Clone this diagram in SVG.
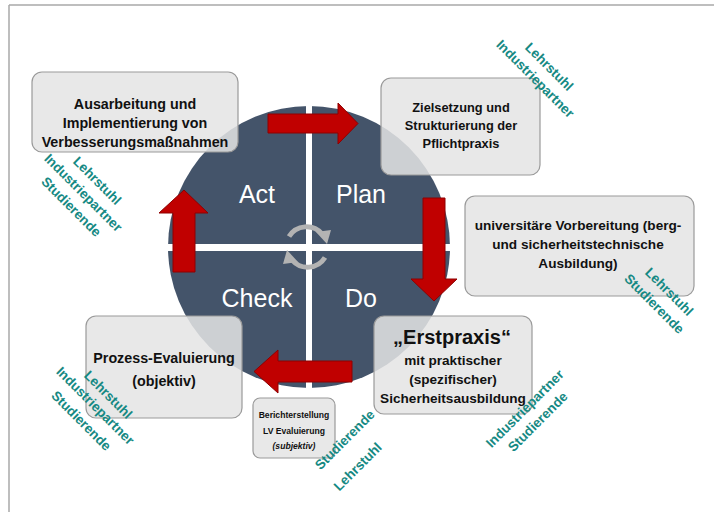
<svg xmlns="http://www.w3.org/2000/svg" width="714" height="512" viewBox="0 0 714 512">
<style>
.box{fill:#e4e4e4;fill-opacity:0.86;stroke:#9a9a9a;stroke-width:1.2}
.bt{font-family:"Liberation Sans",Arial,sans-serif;font-weight:bold;fill:#111;text-anchor:middle}
.lbl{font-family:"Liberation Sans",Arial,sans-serif;font-size:25px;fill:#fff;text-anchor:middle}
.tl{font-family:"Liberation Sans",Arial,sans-serif;font-weight:bold;font-size:13.5px;fill:#168983;text-anchor:middle}
.arr{fill:#c00000;stroke:#8e0000;stroke-width:1}
.cyc{fill:none;stroke:#b3b3b3;stroke-width:5}
.cyh{fill:#b3b3b3}
</style>
<line x1="9" y1="5" x2="714" y2="5" stroke="#a8a8a8" stroke-width="1.5"/>
<line x1="9" y1="5" x2="9" y2="512" stroke="#a8a8a8" stroke-width="1.5"/>
<g id="cycle">
<circle cx="309" cy="247" r="141" fill="#44546a"/>
<rect x="306" y="106" width="6" height="282" fill="#fff"/>
<rect x="168" y="244" width="282" height="7" fill="#fff"/>
<text class="lbl" x="257" y="203">Act</text>
<text class="lbl" x="361" y="203">Plan</text>
<text class="lbl" x="257" y="307">Check</text>
<text class="lbl" x="361" y="307">Do</text>
<path class="cyc" d="M289,236.5 A20.5,20.5 0 0 1 322,234"/>
<polygon class="cyh" points="316,232 331,230 327,244"/>
<path class="cyc" d="M325,257.5 A20.5,20.5 0 0 1 292,260"/>
<polygon class="cyh" points="298,262 283,264 287,250"/>
</g>
<g id="connectors">
<polygon class="arr" points="268,114 338,114 338,103 358,123.5 338,144 338,133 268,133"/>
<polygon class="arr" points="423,198 445,198 445,279 457,279 434,301 411,279 423,279"/>
<polygon class="arr" points="352,361 278,361 278,350 254,371.5 278,393 278,382 352,382"/>
<polygon class="arr" points="173,272 173,213 159,213 184,190 208,213 195,213 195,272"/>
</g>
<g id="act">
<rect class="box" x="32" y="72" width="206" height="80" rx="10"/>
<text class="bt" font-size="14.3" x="135" y="109">Ausarbeitung und</text>
<text class="bt" font-size="14.3" x="135" y="128">Implementierung von</text>
<text class="bt" font-size="14.3" x="135" y="147">Verbesserungsmaßnahmen</text>
</g>
<g id="plan">
<rect class="box" x="381" y="78" width="159" height="97" rx="10"/>
<text class="bt" font-size="12.8" x="461" y="112">Zielsetzung und</text>
<text class="bt" font-size="12.8" x="461" y="130">Strukturierung der</text>
<text class="bt" font-size="12.8" x="461" y="148">Pflichtpraxis</text>
</g>
<g id="vorbereitung">
<rect class="box" x="465" y="196" width="229" height="100" rx="10"/>
<text class="bt" font-size="13.6" x="578" y="230">universitäre Vorbereitung (berg-</text>
<text class="bt" font-size="13.6" x="578" y="249">und sicherheitstechnische</text>
<text class="bt" font-size="13.6" x="578" y="268">Ausbildung)</text>
</g>
<g id="do">
<rect class="box" x="374" y="316" width="158" height="98" rx="10"/>
<text class="bt" font-size="20" x="452" y="344">„Erstpraxis“</text>
<text class="bt" font-size="13.6" x="453" y="365">mit praktischer</text>
<text class="bt" font-size="13.6" x="453" y="384">(spezifischer)</text>
<text class="bt" font-size="13.6" x="453" y="403">Sicherheitsausbildung</text>
</g>
<g id="check">
<rect class="box" x="86" y="316" width="156" height="102" rx="10"/>
<text class="bt" font-size="14.3" x="164" y="363">Prozess-Evaluierung</text>
<text class="bt" font-size="14.3" x="164" y="386">(objektiv)</text>
</g>
<g id="bericht">
<rect class="box" x="253" y="398" width="82" height="60" rx="7"/>
<text class="bt" font-size="8.6" x="294" y="418">Berichterstellung</text>
<text class="bt" font-size="8.6" x="294" y="434">LV Evaluierung</text>
<text class="bt" font-size="8.6" x="294" y="449" font-style="italic">(subjektiv)</text>
</g>
<g id="roles">
<text class="tl" transform="translate(546,70) rotate(45)">Lehrstuhl</text>
<text class="tl" transform="translate(532,82) rotate(45)">Industriepartner</text>
<text class="tl" transform="translate(94,184) rotate(45)">Lehrstuhl</text>
<text class="tl" transform="translate(80,196) rotate(45)">Industriepartner</text>
<text class="tl" transform="translate(68,210) rotate(45)">Studierende</text>
<text class="tl" transform="translate(105,398) rotate(45)">Lehrstuhl</text>
<text class="tl" transform="translate(92,409) rotate(45)">Industriepartner</text>
<text class="tl" transform="translate(78,424) rotate(45)">Studierende</text>
<text class="tl" transform="translate(666,295) rotate(45)">Lehrstuhl</text>
<text class="tl" transform="translate(651,307) rotate(45)">Studierende</text>
<text class="tl" transform="translate(528,412) rotate(-45)">Industriepartner</text>
<text class="tl" transform="translate(541,425) rotate(-45)">Studierende</text>
<text class="tl" transform="translate(348,443) rotate(-45)">Studierende</text>
<text class="tl" transform="translate(361,470) rotate(-45)">Lehrstuhl</text>
</g>
</svg>
